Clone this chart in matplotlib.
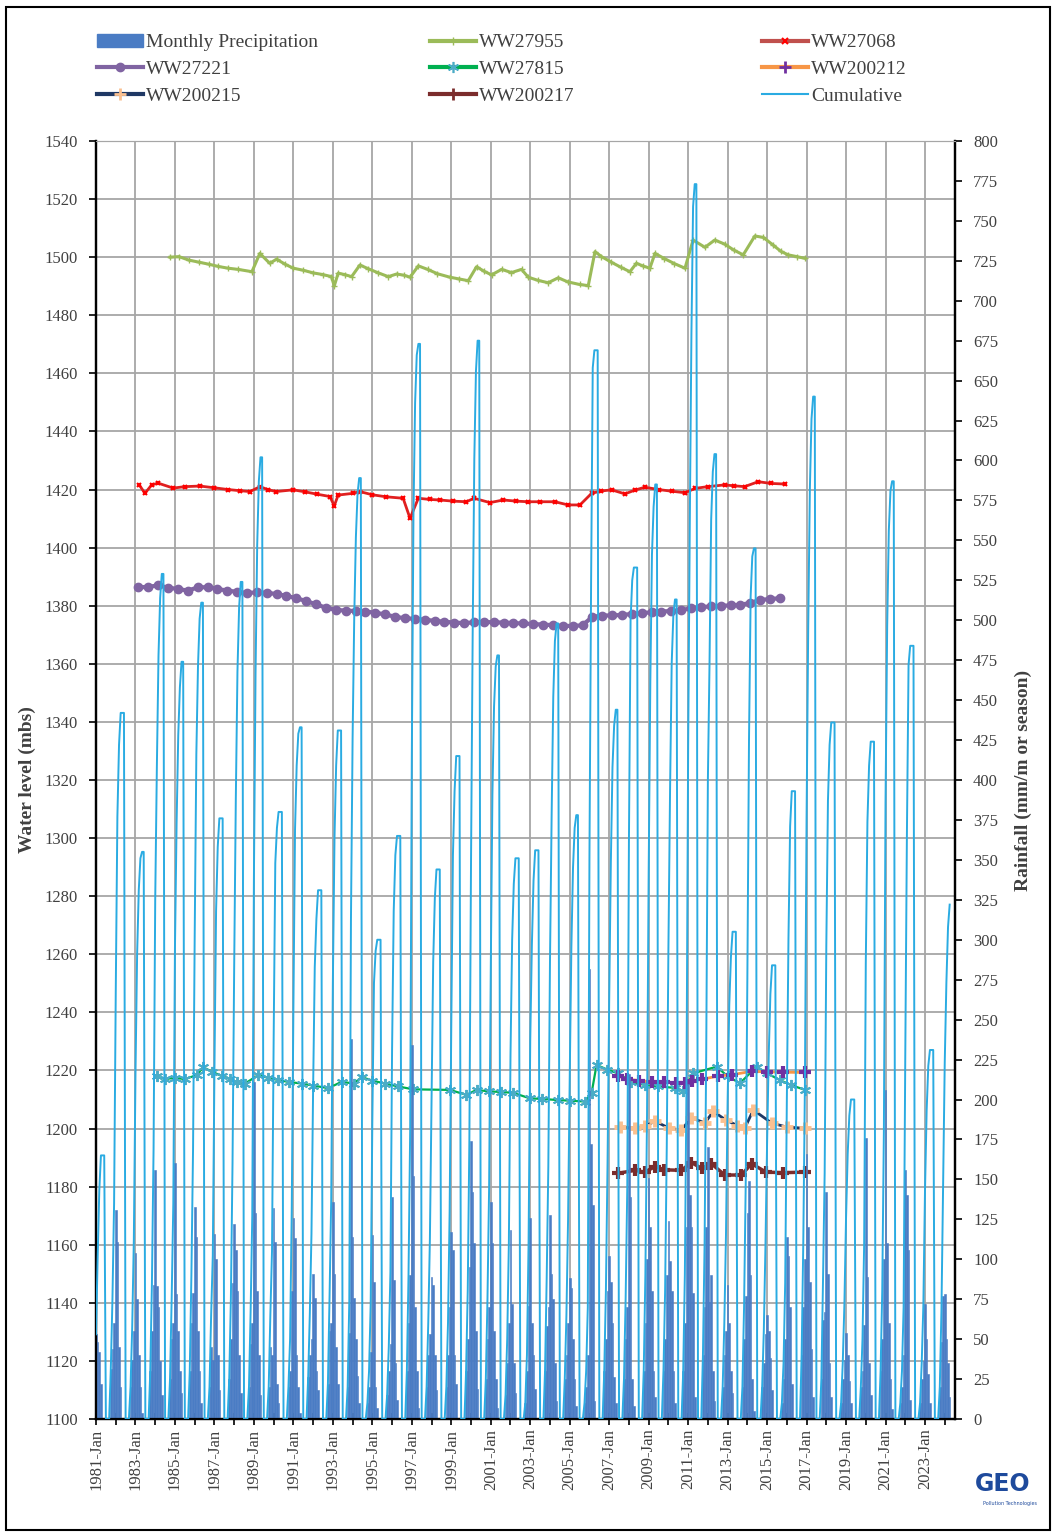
import numpy as np
import matplotlib.pyplot as plt
from matplotlib.lines import Line2D
from matplotlib.patches import Patch, Rectangle

# Hydrological seasons run Jul-Jun; each entry is the year the season starts.
season_start = list(range(1980, 2024))

# Monthly rainfall (mm) for the wet months of every season.
# Jun-Sep are dry; the record starts Jan 1981 and ends Apr 2024.
nan = np.nan
oct_rain = [nan, 31, 20, 30, 25, 30, 20, 25, 20, 20, 20, 26, 22, 20, 10, 15, 30, 20, 20, 30, 25, 15,
            10, 30, 25, 10, 30, 25, 30, 30, 30, 40, 20, 20, 20, 10, 40, 25, 10, 20, 30, 10, 10, 20]
nov_rain = [nan, 44, 37, 55, 50, 60, 45, 50, 47, 45, 30, 40, 55, 54, 20, 30, 60, 40, 40, 50, 50, 35,
            30, 58, 40, 20, 50, 50, 60, 50, 60, 70, 40, 50, 35, 25, 70, 62, 25, 30, 50, 20, 25, 48]
dec_rain = [nan, 60, 55, 84, 60, 79, 37, 85, 60, 40, 80, 50, 60, 238, 42, 47, 90, 53, 70, 95, 70, 60,
            71, 70, 60, 40, 80, 70, 100, 90, 120, 120, 55, 77, 53, 50, 100, 67, 37, 59, 100, 40, 36, 77]
jan_rain = [53, 131, 104, 156, 160, 133, 116, 122, 211, 132, 126, 91, 136, 114, 115, 139, 234, 89, 117, 174, 136, 118,
            126, 128, 88, 282, 102, 216, 151, 124, 210, 170, 84, 129, 65, 114, 166, 142, 54, 176, 206, 156, 72, 78]
feb_rain = [48, 111, 75, 83, 78, 114, 100, 106, 129, 111, 113, 76, 91, 76, 86, 87, 152, 84, 106, 142, 110, 72,
            60, 91, 82, 172, 86, 139, 120, 99, 140, 73, 60, 149, 55, 102, 120, 91, 40, 89, 110, 140, 50, 50]
mar_rain = [42, 45, 40, 70, 55, 55, 40, 80, 80, 22, 40, 30, 45, 50, 20, 35, 70, 40, 40, 110, 55, 35,
            40, 75, 50, 134, 60, 25, 80, 80, 120, 90, 30, 90, 38, 70, 86, 35, 24, 35, 60, 106, 28, 35]
apr_rain = [22, 20, 20, 36, 30, 30, 18, 40, 40, 10, 20, 18, 22, 27, 7, 12, 30, 18, 22, 55, 25, 16,
            19, 35, 25, 11, 26, 8, 30, 30, 79, 30, 16, 25, 18, 22, 44, 14, 10, 15, 25, 12, 10, 14]
may_rain = [0, 0, 4, 15, 16, 10, 0, 16, 15, 0, 4, 0, 0, 10, 0, 0, 7, 0, 0, 19, 7, 0,
            0, 11, 8, 0, 10, 0, 14, 10, 14, 11, 0, 5, 0, 0, 14, 0, 0, 0, 6, 0, 0, nan]

# Borehole water levels: decimal year, level
ww27955_t = [1984.75, 1985.2, 1985.7, 1986.2, 1986.7, 1987.2, 1987.7, 1988.2, 1988.9, 1989.3, 1989.8, 1990.15,
             1990.6, 1991.0, 1991.5, 1992.0, 1992.5, 1992.93, 1993.07, 1993.27, 1993.6, 1993.95, 1994.37,
             1994.8, 1995.3, 1995.81, 1996.23, 1996.6, 1996.91, 1997.33, 1997.8, 1998.3, 1998.93, 1999.4,
             1999.86, 2000.28, 2000.65, 2001.04, 2001.55, 2002.05, 2002.56, 2002.9, 2003.4, 2003.91, 2004.42,
             2004.9, 2005.5, 2005.94, 2006.28, 2006.61, 2007.1, 2007.6, 2008.05, 2008.38, 2008.7, 2009.06,
             2009.32, 2009.8, 2010.3, 2010.84, 2011.25, 2011.85, 2012.35, 2012.85, 2013.3, 2013.79, 2014.38,
             2014.81, 2015.3, 2015.7, 2016.07, 2016.5, 2016.92]
ww27955_wl = [1500.0, 1500.2, 1499.0, 1498.3, 1497.6, 1496.8, 1496.2, 1495.8, 1495.0, 1501.3, 1497.9, 1499.3,
              1497.5, 1496.2, 1495.5, 1494.6, 1494.0, 1493.3, 1490.1, 1494.5, 1494.0, 1493.3, 1497.3,
              1496.0, 1494.6, 1493.3, 1494.2, 1493.8, 1493.1, 1497.0, 1495.8, 1494.3, 1493.1, 1492.5,
              1491.9, 1496.7, 1495.2, 1493.9, 1495.8, 1494.7, 1495.8, 1493.1, 1492.0, 1491.2, 1492.9,
              1491.5, 1490.6, 1490.2, 1501.9, 1500.2, 1498.3, 1496.5, 1495.0, 1497.9, 1497.0, 1496.2,
              1501.3, 1499.5, 1497.8, 1496.2, 1505.9, 1503.4, 1505.9, 1504.5, 1502.5, 1500.8, 1507.3,
              1506.8, 1504.2, 1502.0, 1500.8, 1500.2, 1499.6]

ww27068_t = [1983.19, 1983.48, 1983.82, 1984.15, 1984.91, 1985.5, 1986.27, 1987.0, 1987.7, 1988.3, 1988.8,
             1989.31, 1989.7, 1990.12, 1990.99, 1991.6, 1992.2, 1992.85, 1993.07, 1993.27, 1994.03, 1994.37,
             1995.0, 1995.7, 1996.56, 1996.91, 1997.33, 1997.9, 1998.42, 1999.1, 1999.77, 2000.15, 2000.96,
             2001.63, 2002.3, 2002.9, 2003.5, 2004.25, 2004.92, 2005.52, 2006.11, 2006.6, 2007.12, 2007.8,
             2008.3, 2008.81, 2009.5, 2010.2, 2010.84, 2011.35, 2012.0, 2012.85, 2013.3, 2013.86, 2014.55,
             2015.2, 2015.9]
ww27068_wl = [1421.6, 1418.7, 1421.6, 1422.2, 1420.5, 1421.0, 1421.2, 1420.6, 1420.0, 1419.6, 1419.3,
              1421.0, 1420.0, 1419.3, 1419.9, 1419.2, 1418.4, 1417.6, 1414.4, 1418.1, 1418.7, 1419.3,
              1418.2, 1417.5, 1417.0, 1410.1, 1417.0, 1416.6, 1416.4, 1416.0, 1415.8, 1417.0, 1415.5,
              1416.4, 1416.0, 1415.8, 1415.8, 1415.8, 1414.7, 1414.7, 1418.7, 1419.5, 1419.9, 1418.5,
              1419.8, 1420.8, 1420.0, 1419.4, 1418.9, 1420.4, 1421.0, 1421.6, 1421.3, 1421.0, 1422.7,
              1422.1, 1421.9]

ww27221_t = [1983.15, 1983.65, 1984.15, 1984.65, 1985.15, 1985.65, 1986.15, 1986.65, 1987.15, 1987.65,
             1988.15, 1988.65, 1989.15, 1989.65, 1990.15, 1990.65, 1991.15, 1991.65, 1992.15, 1992.65,
             1993.15, 1993.65, 1994.15, 1994.65, 1995.15, 1995.65, 1996.15, 1996.65, 1997.15, 1997.65,
             1998.15, 1998.65, 1999.15, 1999.65, 2000.15, 2000.65, 2001.15, 2001.65, 2002.15, 2002.65,
             2003.15, 2003.65, 2004.15, 2004.65, 2005.15, 2005.65, 2006.15, 2006.65, 2007.15, 2007.65,
             2008.15, 2008.65, 2009.15, 2009.65, 2010.15, 2010.65, 2011.15, 2011.65, 2012.15, 2012.65,
             2013.15, 2013.65, 2014.15, 2014.65, 2015.15, 2015.65]
ww27221_wl = [1386.3, 1386.5, 1387.0, 1386.2, 1385.8, 1385.2, 1386.3, 1386.4, 1385.8, 1385.2,
              1384.8, 1384.4, 1384.6, 1384.5, 1384.0, 1383.4, 1382.6, 1381.6, 1380.5, 1379.3,
              1378.6, 1378.3, 1378.2, 1378.0, 1377.6, 1377.0, 1376.2, 1375.7, 1375.5, 1375.2,
              1374.8, 1374.5, 1374.2, 1374.0, 1374.3, 1374.4, 1374.3, 1374.2, 1374.0, 1373.9,
              1373.7, 1373.5, 1373.3, 1373.1, 1373.0, 1373.3, 1376.2, 1376.6, 1376.7, 1376.8,
              1377.2, 1377.4, 1377.8, 1378.0, 1378.2, 1378.5, 1379.1, 1379.5, 1379.8, 1380.0,
              1380.1, 1380.3, 1381.0, 1382.0, 1382.3, 1382.6]

ww27815_t = [1984.07, 1984.5, 1985.0, 1985.5, 1986.1, 1986.43, 1986.9, 1987.4, 1987.8, 1988.12, 1988.55,
             1989.22, 1989.7, 1990.23, 1990.8, 1991.42, 1992.0, 1992.77, 1993.45, 1994.05, 1994.46, 1995.0,
             1995.64, 1996.3, 1997.07, 1998.93, 1999.77, 2000.28, 2000.9, 2001.5, 2002.13, 2002.98, 2003.6,
             2004.42, 2005.0, 2005.77, 2006.11, 2006.36, 2006.9, 2007.45, 2008.13, 2008.8, 2009.48, 2010.33,
             2010.75, 2011.25, 2012.44, 2013.0, 2013.62, 2014.47, 2015.0, 2015.65, 2016.2, 2016.92]
ww27815_wl = [1218.0, 1217.0, 1217.5, 1217.0, 1218.4, 1221.1, 1219.5, 1218.0, 1217.0, 1216.1, 1215.5,
              1218.4, 1217.5, 1216.7, 1216.0, 1215.5, 1214.8, 1213.9, 1216.1, 1215.5, 1217.7, 1216.5,
              1215.5, 1214.5, 1213.5, 1213.3, 1211.6, 1213.3, 1212.8, 1212.6, 1212.3, 1210.4, 1210.2,
              1209.8, 1209.6, 1209.3, 1212.3, 1221.9, 1220.3, 1219.0, 1216.1, 1215.0, 1214.5, 1214.0,
              1212.8, 1219.0, 1221.3, 1218.0, 1215.6, 1221.3, 1219.0, 1216.7, 1215.0, 1213.3]

ww200212_t = [2007.45, 2007.9, 2008.5, 2009.15, 2009.8, 2010.4, 2010.84, 2011.2, 2011.68, 2012.52,
              2013.2, 2014.21, 2015.0, 2015.8, 2016.92]
ww200212_wl = [1218.1, 1217.0, 1216.5, 1216.1, 1216.0, 1215.8, 1215.6, 1216.5, 1216.9, 1218.1,
               1218.5, 1219.7, 1219.5, 1219.4, 1219.3]

ww200215_t = [2007.54, 2008.3, 2008.8, 2009.32, 2010.05, 2010.65, 2011.17, 2011.85, 2012.27, 2012.9,
              2013.5, 2013.87, 2014.3, 2015.23, 2016.0, 2016.92]
ww200215_wl = [1200.6, 1200.1, 1200.8, 1202.5, 1200.1, 1199.5, 1203.7, 1201.9, 1205.9, 1203.0,
               1201.0, 1200.1, 1206.4, 1201.9, 1200.5, 1200.1]

ww200217_t = [2007.45, 2008.3, 2008.8, 2009.32, 2009.8, 2010.65, 2011.17, 2011.68, 2012.18, 2012.85,
              2013.7, 2014.21, 2014.95, 2015.8, 2016.92]
ww200217_wl = [1184.6, 1185.6, 1185.0, 1186.9, 1185.8, 1185.6, 1188.3, 1186.3, 1187.9, 1184.0,
               1184.0, 1187.9, 1185.0, 1184.8, 1185.0]

record_first, record_last = 1981.0, 2024.0 + 3 / 12

# Expand the seasonal table into a monthly series plus a running seasonal total
rain_by_month = {10: oct_rain, 11: nov_rain, 12: dec_rain, 1: jan_rain,
                 2: feb_rain, 3: mar_rain, 4: apr_rain, 5: may_rain}
month_t, month_rain, cum_t, cum_rain = [], [], [], []
for i, start in enumerate(season_start):
    total = 0.0
    for month in [7, 8, 9, 10, 11, 12, 1, 2, 3, 4, 5, 6]:
        year = start if month >= 7 else start + 1
        t = year + (month - 1) / 12
        if t < record_first - 1e-6 or t > record_last + 1e-6:
            continue
        val = rain_by_month[month][i] if month in rain_by_month else 0.0
        if np.isnan(val):
            continue
        total += val
        month_t.append(t)
        month_rain.append(val)
        cum_t.append(t)
        cum_rain.append(total)

serif = 'Liberation Serif'
grey = '#404040'
bar_blue = '#4A7CC4'

fig = plt.figure(figsize=(10.57, 15.32), dpi=100)
ax = fig.add_axes([96 / 1057, 1 - 1419 / 1532, 859 / 1057, 1278 / 1532])
ax2 = ax.twinx()

# water levels on the left axis
ax.plot(ww27955_t, ww27955_wl, color='#9BBB59', lw=2.2, marker='+', ms=4, mew=1, zorder=3)
ax.plot(ww27068_t, ww27068_wl, color='#E02020', lw=2.0, marker='x', ms=3.5, mew=1.5, mec='#FF0000', zorder=3)
ax.plot(ww27221_t, ww27221_wl, color='#8064A2', lw=3.0, marker='o', ms=6, zorder=3)
ax.plot(ww27815_t, ww27815_wl, color='#00B050', lw=1.6, marker=(6, 2, 0), ms=8, mew=1.4, mec='#4BACC6', zorder=3)
ax.plot(ww200212_t, ww200212_wl, color='#F79646', lw=2.0, marker='+', ms=8, mew=3, mec='#7030A0', zorder=3)
ax.plot(ww200215_t, ww200215_wl, color='#1F3864', lw=2.0, marker='+', ms=8, mew=3.5, mec='#FAC090', zorder=3)
ax.plot(ww200217_t, ww200217_wl, color='#7B2C2C', lw=2.5, marker='+', ms=8, mew=3, mec='#7B2C2C', zorder=3)

# rainfall on the right axis
ax2.bar(month_t, month_rain, width=1 / 12, color=bar_blue, edgecolor=bar_blue, linewidth=0.4, zorder=2)
ax2.plot(cum_t, cum_rain, color='#2AABE2', lw=1.4, zorder=3)

ax.set_xlim(1981.0, 2024.52)
ax.set_ylim(1100, 1540)
ax2.set_ylim(0, 800)

ax.set_yticks(np.arange(1100, 1541, 20))
ax2.set_yticks(np.arange(0, 801, 25))
ax.set_xticks(np.arange(1981, 2024, 2))
ax.set_xticks(np.arange(1981, 2025, 1), minor=True)
ax.set_xticklabels([f'{y}-Jan' for y in range(1981, 2024, 2)], rotation=90)

ax.grid(True, which='major', color='#A6A6A6', lw=1.3)
ax.set_axisbelow(True)

for a in (ax, ax2):
    for lab in a.get_xticklabels() + a.get_yticklabels():
        lab.set_fontfamily(serif)
        lab.set_fontsize(12)
        lab.set_color(grey)
ax.tick_params(axis='x', which='both', direction='inout', length=8, width=1.2, pad=3)
ax.tick_params(axis='y', direction='out', length=5, width=1.2, pad=8)
ax2.tick_params(axis='y', direction='out', length=5, width=1.2, pad=8)

for side in ('left', 'bottom', 'right'):
    ax.spines[side].set_linewidth(1.6)
    ax2.spines[side].set_linewidth(1.6)
ax.spines['top'].set_color('#A6A6A6')
ax2.spines['top'].set_color('#A6A6A6')

ax.set_ylabel('Water level (mbs)', family=serif, fontsize=14, fontweight='bold', color=grey, labelpad=6)
ax2.set_ylabel('Rainfall (mm/m or season)', family=serif, fontsize=14, fontweight='bold', color=grey,
               labelpad=12)

# legend in three separate columns across the top
col1 = [(Patch(color=bar_blue), 'Monthly Precipitation'),
        (Line2D([], [], color='#8064A2', lw=3, marker='o', ms=6), 'WW27221'),
        (Line2D([], [], color='#1F3864', lw=3, marker='+', ms=8, mew=2, mec='#FAC090'), 'WW200215')]
col2 = [(Line2D([], [], color='#9BBB59', lw=3, marker='+', ms=6, mew=1), 'WW27955'),
        (Line2D([], [], color='#00B050', lw=3, marker=(6, 2, 0), ms=8, mew=1.2, mec='#4BACC6'), 'WW27815'),
        (Line2D([], [], color='#7B2C2C', lw=3, marker='+', ms=8, mew=2), 'WW200217')]
col3 = [(Line2D([], [], color='#C0504D', lw=3, marker='x', ms=4, mew=1.5, mec='#FF0000'), 'WW27068'),
        (Line2D([], [], color='#F79646', lw=3, marker='+', ms=8, mew=2, mec='#7030A0'), 'WW200212'),
        (Line2D([], [], color='#2AABE2', lw=1.5), 'Cumulative')]
for x0, col in ((87, col1), (420, col2), (752, col3)):
    fig.legend([h for h, _ in col], [l for _, l in col], loc='upper left',
               bbox_to_anchor=(x0 / 1057, 1 - 24 / 1532), frameon=False, borderpad=0,
               handlelength=2.4, handletextpad=0.15, labelspacing=0.48,
               prop={'family': serif, 'size': 14}, labelcolor=grey)

# page frame and logo
fig.patches.append(Rectangle((6 / 1057, 2 / 1532), 1044 / 1057, 1523 / 1532, transform=fig.transFigure,
                             fill=False, edgecolor='black', lw=1.5))
fig.text(1003 / 1057, 1 - 1484 / 1532, 'GEO', ha='center', va='center', fontsize=17, fontweight='bold',
         color='#1E4A9C', family='DejaVu Sans')
fig.text(1010 / 1057, 1 - 1503 / 1532, 'Pollution Technologies', ha='center', va='center', fontsize=3.5,
         color='#1E4A9C', family='DejaVu Sans')

fig.savefig('out.png', dpi=100)
